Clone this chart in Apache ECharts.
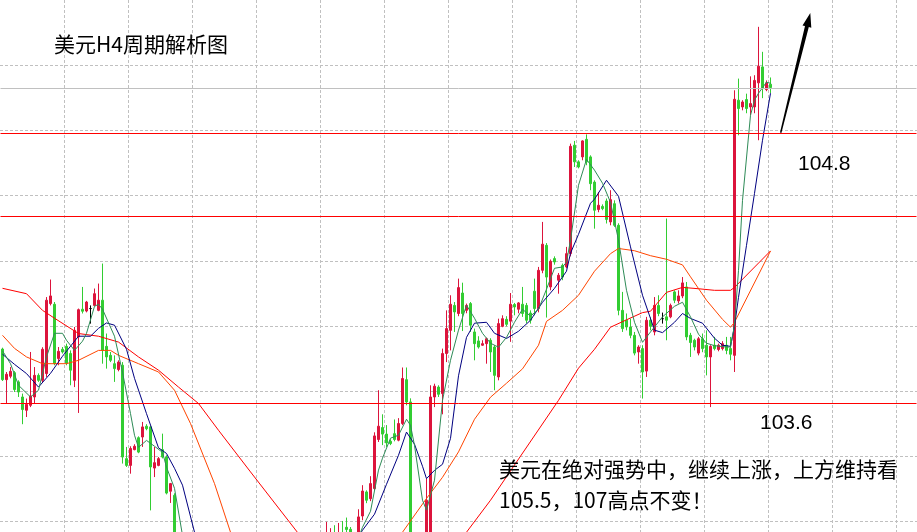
<!DOCTYPE html>
<html>
<head>
<meta charset="utf-8">
<script src="https://cdn.jsdelivr.net/npm/echarts@6/dist/echarts.min.js"></script>
<style>html,body{margin:0;padding:0;background:#fff;}#c{width:917px;height:532px;}</style>
</head>
<body>
<div id="c"></div>
<script>
// ---- Data (USD index, H4 bars) ----
const opens = [
103.842,103.706,103.721,103.737,103.696,103.629,103.570,103.592,103.629,103.725,
103.703,103.733,104.044,104.041,103.800,103.841,103.854,103.822,103.703,103.896,
104.019,104.011,104.022,104.036,104.014,104.059,103.854,103.814,103.777,103.751,
103.770,103.355,103.325,103.395,103.448,103.451,103.499,103.496,103.313,103.325,
103.395,103.362,103.210,103.192,null,null,null,null,null,null,
null,null,null,null,null,null,null,null,null,null,
null,null,null,null,null,null,null,null,null,null,
null,null,null,null,null,null,null,null,null,null,
null,102.948,102.970,103.014,102.970,103.023,103.050,103.041,null,102.970,
103.100,103.207,103.177,103.222,103.440,103.493,103.464,103.432,103.466,103.437,
103.511,103.706,103.607,null,null,null,102.970,102.992,103.629,103.673,
103.644,103.822,103.925,104.036,104.000,104.091,104.014,104.044,103.918,103.878,
103.859,103.866,103.881,103.851,103.718,103.943,103.974,103.966,104.040,104.019,
104.041,104.036,104.002,104.099,104.022,104.192,104.303,104.118,104.244,104.148,
104.214,104.207,104.266,104.748,104.674,104.696,104.774,104.696,104.584,104.462,
104.476,104.500,104.407,104.488,104.392,104.014,103.970,103.940,103.903,103.829,
103.844,103.744,103.970,103.918,104.036,103.977,103.985,103.985,104.096,104.056,
104.078,104.118,103.903,103.881,103.824,103.888,103.859,103.807,103.859,103.840,
103.844,103.859,103.844,103.814,104.948,104.918,104.951,104.918,104.918,105.025,
105.096,104.995,105.019];
const closes = [
103.706,103.730,103.743,103.662,103.651,103.573,103.596,103.633,103.725,103.703,
103.841,104.059,104.078,103.777,103.832,103.829,103.780,103.748,103.925,104.017,
104.010,104.051,104.022,104.088,104.059,103.836,103.807,103.792,103.755,103.784,
103.362,103.325,103.400,103.410,103.384,103.496,103.488,103.318,103.337,103.355,
103.362,103.202,103.244,102.992,null,null,null,null,null,null,
null,null,null,null,null,null,null,null,null,null,
null,null,null,null,null,null,null,null,null,null,
null,null,null,null,null,null,null,null,null,null,
null,103.014,103.019,102.970,103.014,102.992,103.040,103.010,null,103.096,
103.211,103.170,103.244,103.456,103.499,103.464,103.425,103.422,103.440,103.511,
103.711,103.607,102.970,null,null,null,103.170,103.629,103.677,103.641,
103.822,103.933,104.041,104.007,104.115,104.000,104.036,103.948,103.866,103.851,
103.866,103.888,103.829,103.725,103.955,103.977,103.952,104.041,104.029,104.047,
104.000,103.970,103.970,104.022,104.192,104.308,104.162,104.232,104.229,104.170,
104.162,104.266,104.743,104.674,104.651,104.767,104.674,104.577,104.459,104.481,
104.466,104.418,104.506,104.392,104.014,103.933,103.940,103.903,103.824,103.851,
103.740,103.970,103.943,104.036,104.000,103.977,103.970,104.036,104.059,104.078,
104.136,103.896,103.871,103.851,103.888,103.844,103.807,103.854,103.844,103.859,
103.866,103.836,103.819,104.952,104.911,104.940,104.911,104.933,105.036,105.099,
105.000,105.025,105.004];
const lows = [
103.700,103.600,103.712,103.651,103.629,103.508,103.540,103.584,103.600,103.696,
103.694,103.718,104.036,103.770,103.770,103.822,103.770,103.681,103.673,103.558,
104.000,104.005,103.955,104.032,104.010,103.777,103.755,103.784,103.696,103.743,
103.333,103.318,103.288,103.392,103.379,103.407,103.481,103.125,103.273,103.321,
103.356,103.196,103.158,102.970,null,null,null,null,null,null,
null,null,null,null,null,null,null,null,null,null,
null,null,null,null,null,null,null,null,null,null,
null,null,null,null,null,null,null,null,null,null,
null,102.925,102.956,102.948,102.956,102.970,103.014,102.992,null,102.956,
103.081,103.157,103.166,103.214,103.429,103.415,103.407,103.415,103.432,103.432,
103.504,103.592,102.948,null,null,null,102.948,102.970,103.584,103.629,
103.552,103.784,103.836,103.918,103.988,103.922,104.001,103.918,103.792,103.844,
103.856,103.777,103.740,103.659,103.703,103.939,103.943,103.874,103.992,104.001,
103.985,103.957,103.955,103.992,104.005,104.179,103.982,104.103,104.217,104.088,
104.148,104.201,104.254,104.651,104.645,104.681,104.659,104.548,104.377,104.450,
104.459,104.400,104.392,104.385,103.992,103.918,103.925,103.890,103.814,103.777,
103.622,103.718,103.925,103.903,103.988,103.955,103.881,103.979,104.046,104.044,
104.068,103.881,103.807,103.836,103.814,103.828,103.725,103.584,103.836,103.832,
103.836,103.819,103.792,103.740,104.792,104.903,104.890,104.881,104.890,104.770,
104.957,104.988,104.980];
const highs = [
103.848,103.740,103.762,103.744,103.703,103.644,103.622,103.829,103.762,103.734,
103.850,104.073,104.151,104.051,103.851,103.851,103.866,103.836,103.940,104.022,
104.118,104.056,104.036,104.111,104.133,104.222,103.911,103.829,103.814,103.792,
103.784,103.407,103.410,103.419,103.454,103.518,103.508,103.499,103.407,103.362,
103.466,103.370,103.247,103.201,null,null,null,null,null,null,
null,null,null,null,null,null,null,null,null,null,
null,null,null,null,null,null,null,null,null,null,
null,null,null,null,null,null,null,null,null,null,
null,103.074,103.046,103.059,103.069,103.078,103.093,103.051,null,103.130,
103.237,103.214,103.277,103.472,103.659,103.552,103.504,103.441,103.529,103.535,
103.760,103.760,103.623,null,null,null,103.266,103.681,103.688,103.681,
103.844,104.014,104.081,104.051,104.155,104.137,104.044,104.051,103.933,103.899,
103.881,103.893,103.890,103.859,103.977,103.992,103.988,104.091,104.047,104.051,
104.118,104.047,104.014,104.155,104.207,104.407,104.313,104.240,104.254,104.180,
104.222,104.296,104.755,104.767,104.681,104.770,104.796,104.703,104.592,104.540,
104.485,104.511,104.548,104.503,104.401,104.096,104.000,103.977,103.918,103.859,
103.859,103.985,103.983,104.073,104.081,104.004,104.422,104.044,104.103,104.103,
104.162,104.140,103.914,103.888,103.896,103.911,103.925,103.859,103.896,103.866,
103.877,103.896,103.896,104.992,105.044,104.948,104.977,105.054,105.059,105.274,
105.163,105.036,105.049];

// moving averages: [bar index, value]
const maFast = [[0,103.834],[2,103.777],[4,103.681],[7,103.629],[9,103.659],[11,103.807],[13,103.912],[15,103.912],[16,103.881],[18,103.836],
[20,103.877],[21,103.912],[23,104.032],[24,104.041],[25,104.019],[28,103.899],[30,103.739],[32,103.555],[33,103.459],[34,103.405],
[36,103.436],[38,103.410],[40,103.383],[41,103.317],[43,103.223],[45,103.014],[47,102.837],[86,102.859],[90,103.050],[92,103.121],
[94,103.304],[95,103.357],[97,103.446],[99,103.459],[101,103.530],[102,103.503],[103,103.414],[105,103.170],[106,103.126],[108,103.259],
[110,103.614],[112,103.792],[114,103.926],[116,104.037],[118,103.979],[120,103.912],[122,103.868],[124,103.850],[126,103.894],[128,103.961],
[130,104.019],[132,103.988],[134,104.019],[136,104.108],[138,104.201],[140,104.207],[141,104.228],[142,104.326],[144,104.570],[146,104.685],
[148,104.637],[150,104.579],[152,104.494],[154,104.326],[156,104.103],[158,103.961],[160,103.872],[162,103.918],[165,103.985],[168,104.032],
[170,104.050],[172,103.985],[174,103.908],[176,103.868],[178,103.857],[181,103.851],[182,103.851],[183,103.948],[184,104.192],[185,104.503],
[187,104.881],[188,104.948],[189,104.979],[191,105.028],[192,105.023]];
const maNavy = [[0,103.819],[3,103.774],[6,103.733],[9,103.673],[12,103.734],[15,103.810],[19,103.899],[22,103.899],[24,103.934],[26,103.958],
[28,103.948],[31,103.841],[33,103.712],[36,103.555],[39,103.403],[41,103.378],[43,103.312],[45,103.237],[48,103.028],[52,102.814],
[86,102.917],[90,103.037],[93,103.108],[96,103.241],[99,103.370],[101,103.473],[103,103.419],[105,103.321],[106,103.266],[108,103.303],
[110,103.330],[112,103.445],[114,103.723],[116,103.894],[118,103.957],[121,103.961],[123,103.912],[126,103.889],[129,103.921],[132,103.970],
[135,104.050],[138,104.112],[141,104.188],[142,104.268],[144,104.352],[147,104.490],[148,104.508],[151,104.592],[154,104.521],[157,104.296],
[160,104.081],[163,103.926],[165,103.915],[168,103.961],[170,104.000],[172,103.978],[175,103.957],[178,103.890],[180,103.859],[182,103.854],
[183,103.943],[184,104.072],[186,104.303],[188,104.534],[190,104.770],[192,104.979]];
const maOrange = [[0,103.903],[3,103.845],[6,103.807],[10,103.777],[16,103.777],[19,103.792],[24,103.836],[27,103.836],[29,103.814],[34,103.777],
[39,103.740],[43,103.659],[47,103.511],[53,103.244],[57,103.028],[61,102.823],[96,102.917],[100,103.028],[106,103.178],[110,103.272],
[114,103.385],[118,103.530],[122,103.628],[126,103.690],[130,103.754],[134,103.859],[136,103.965],[140,104.014],[144,104.081],[148,104.188],
[152,104.266],[154,104.289],[158,104.279],[162,104.257],[166,104.241],[170,104.216],[172,104.163],[176,104.059],[180,103.974],[182,103.939],
[183,103.961],[192,104.278]];
const maRed = [[0,104.112],[6,104.088],[10,104.014],[13,103.979],[19,103.911],[24,103.899],[29,103.873],[34,103.807],[39,103.748],[44,103.673],
[49,103.600],[54,103.481],[62,103.296],[78,102.930],[112,102.926],[116,103.028],[122,103.170],[139,103.614],[144,103.757],[148,103.841],
[152,103.939],[156,103.972],[160,104.004],[162,104.010],[166,104.094],[170,104.116],[174,104.110],[178,104.103],[182,104.103],[183,104.116],
[192,104.278]];

// key levels
const levels = [104.8, 104.426, 103.6];
const levelLabels = ['104.8', '103.6'];
const titleText = '美元H4周期解析图';
const noteLines = ['美元在绝对强势中，继续上涨，上方维持看', '105.5，107高点不变！'];

const totalBars = 229;
const categories = Array.from({length: totalBars}, (_, i) => String(i + 1));

const UP = '#DC143C', DOWN = '#32CD32';
const candleData = opens.map((o, i) => {
  if (o === null) return '-';
  const item = { value: [o, closes[i], lows[i], highs[i]] };
  if (o === closes[i]) item.itemStyle = { color: '#000', borderColor: '#000', color0: '#000', borderColor0: '#000' };
  return item;
});

const chart = echarts.init(document.getElementById('c'), null, { renderer: 'canvas' });
const hidden = { axisLine: { show: false }, axisTick: { show: false }, axisLabel: { show: false } };
const gridLine = { show: true, showMinLine: false, showMaxLine: false, lineStyle: { color: '#c0c0c0', type: [3, 2], width: 1 } };

const mline = (data, color) => ({
  type: 'line', xAxisIndex: 0, yAxisIndex: 0, data: data, showSymbol: false, symbol: 'none',
  lineStyle: { color: color, width: 1 }, itemStyle: { color: color }, z: 4, silent: true, clip: true
});

const option = {
  animation: false,
  backgroundColor: '#ffffff',
  grid: [
    { left: 0.5, right: 0.5, top: 0, bottom: 0 },
    { left: 0, right: 0, top: 0, bottom: 0 }
  ],
  xAxis: [
    Object.assign({ type: 'category', data: categories, boundaryGap: true, gridIndex: 0, splitLine: { show: false } }, hidden),
    // helper axis for the chart's dotted grid (pixel-like units, ticks counted from min)
    Object.assign({ type: 'value', gridIndex: 1, min: -37.7, max: 879.3, interval: 64, splitLine: gridLine }, hidden)
  ],
  yAxis: [
    Object.assign({ type: 'value', gridIndex: 0, min: 103.0289, max: 105.3933, splitLine: { show: false } }, hidden),
    Object.assign({ type: 'value', gridIndex: 1, inverse: true, min: -2.2, max: 529.8, interval: 65.2, splitLine: gridLine }, hidden)
  ],
  series: [
    {
      type: 'candlestick', xAxisIndex: 0, yAxisIndex: 0, data: candleData, barWidth: 2, clip: true, z: 3,
      itemStyle: { color: UP, color0: DOWN, borderColor: UP, borderColor0: DOWN, borderWidth: 1 },
      markLine: {
        silent: true, symbol: ['none', 'none'], label: { show: false }, animation: false,
        data: [
          { yAxis: closes[closes.length - 1], lineStyle: { color: '#c0c0c0', type: 'solid', width: 1 } },
          { yAxis: levels[0], lineStyle: { color: '#ff0000', type: 'solid', width: 1 } },
          { yAxis: levels[1], lineStyle: { color: '#ff0000', type: 'solid', width: 1 } },
          { yAxis: levels[2], lineStyle: { color: '#ff0000', type: 'solid', width: 1 } }
        ]
      }
    },
    mline(maRed, '#FF0000'),
    mline(maOrange, '#FF4500'),
    mline(maNavy, '#000080'),
    mline(maFast, '#2E8B57')
  ],
  graphic: [
    { type: 'text', x: 54, y: 44, z: 10, style: { text: titleText, font: '21px "Noto Sans CJK SC"', fill: '#000', verticalAlign: 'middle' } },
    { type: 'text', x: 798, y: 164, z: 10, style: { text: levelLabels[0], font: '21px "Liberation Sans"', fill: '#000', verticalAlign: 'middle' } },
    { type: 'text', x: 760, y: 423, z: 10, style: { text: levelLabels[1], font: '21px "Liberation Sans"', fill: '#000', verticalAlign: 'middle' } },
    { type: 'text', x: 499, y: 469, z: 10, style: { text: noteLines[0], font: '21px "Noto Sans CJK SC"', fill: '#000', verticalAlign: 'middle' } },
    { type: 'text', x: 499, y: 500, z: 10, style: { text: noteLines[1], font: '21px "Noto Sans CJK SC"', fill: '#000', verticalAlign: 'middle' } },
    { type: 'polygon', z: 10, shape: { points: [[780.0,132.5],[805.0,26.1],[802.5,25.5],[810.3,13],[811.3,27.7],[808.8,27.1],[781.4,132.9]] }, style: { fill: '#000' } }
  ]
};
chart.setOption(option);
</script>
</body>
</html>
